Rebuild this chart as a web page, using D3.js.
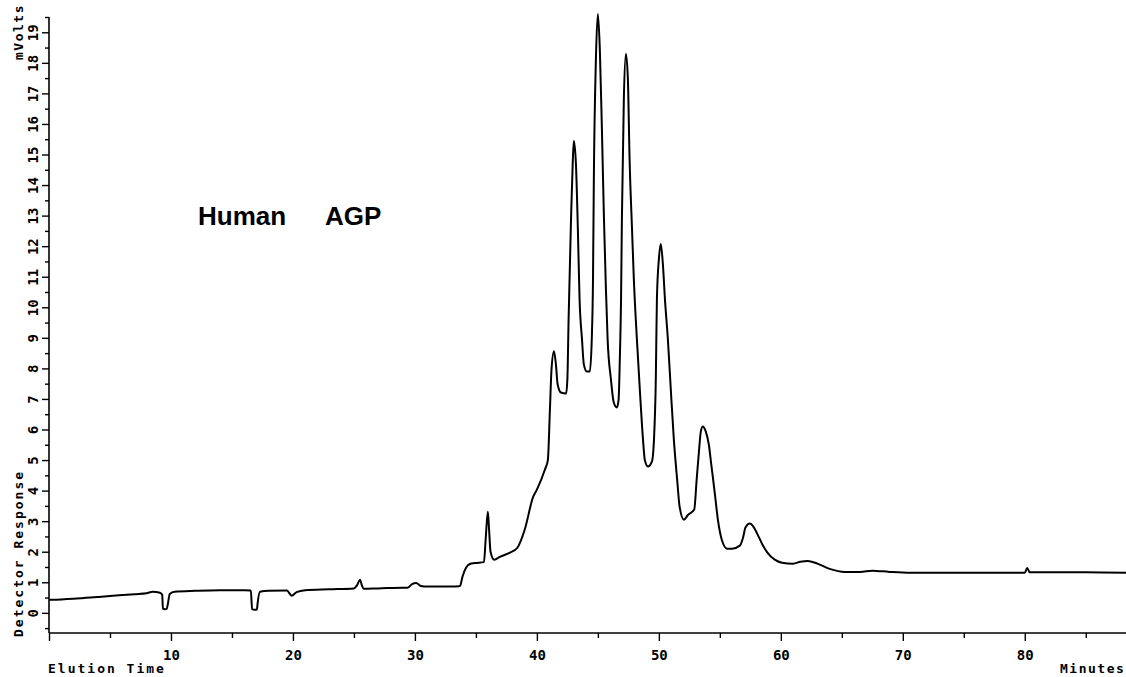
<!DOCTYPE html>
<html>
<head>
<meta charset="utf-8">
<script src="https://cdn.jsdelivr.net/npm/d3@7"></script>
<style>
  body { margin: 0; background: #fff; }
  svg { display: block; }
  .plotter { font-family: "DejaVu Sans Mono", monospace; font-weight: bold; fill: #000; }
</style>
</head>
<body>
<svg id="chart" width="1126" height="677"></svg>
<script>
// elution time (minutes) and detector response (mVolts)
const timeMin = [
  0, 1, 2, 3, 4, 5, 6, 7, 8, 8.5, 9.1, 9.28, 9.34, 9.5, 9.65, 9.75, 9.9, 10.3, 12, 14, 16, 16.55,
  16.65, 16.85, 17.05, 17.1, 17.3, 18, 19.5, 19.9, 20.3, 21, 23, 25, 25.25, 25.5, 25.65, 25.8, 27, 29,
  29.4, 29.8, 30.1, 30.5, 31, 33, 33.6, 33.7, 33.9, 34.2, 34.5, 34.9, 35.66, 35.8, 35.98, 36.07, 36.2,
  36.5, 37, 37.8, 38.4, 39.0, 39.7, 40.0, 40.66, 40.9, 41.07, 41.2, 41.4, 41.56, 41.7, 41.97, 42.4,
  42.5, 42.6, 42.8, 42.95, 43.03, 43.2, 43.36, 43.5, 43.7, 43.85, 44.1, 44.34, 44.5, 44.6, 44.67,
  44.84, 45.0, 45.16, 45.33, 45.5, 45.66, 45.8, 46.07, 46.3, 46.56, 46.7, 46.8, 46.9, 46.97, 47.13,
  47.3, 47.46, 47.6, 47.8, 47.95, 48.2, 48.44, 48.7, 48.85, 49.1, 49.43, 49.6, 49.75, 49.84, 50.0,
  50.16, 50.33, 50.5, 50.74, 50.98, 51.23, 51.5, 51.7, 52.05, 52.4, 52.9, 53.1, 53.3, 53.44, 53.6,
  53.85, 54.1, 54.3, 54.6, 54.84, 55.16, 55.6, 56.0, 56.64, 56.9, 57.1, 57.46, 57.8, 58.1, 58.5,
  58.9, 59.5, 60.1, 61.0, 61.6, 62.2, 63.0, 64.0, 65.25, 66.5, 67.5, 68.9, 70.6, 73, 78, 80.0,
  80.2, 80.4, 82, 85, 88.3
];
const mVolts = [
  0.43, 0.44, 0.46, 0.49, 0.52, 0.55, 0.58, 0.61, 0.64, 0.69, 0.66, 0.59, 0.14, 0.12, 0.13, 0.3, 0.62, 0.69, 0.72, 0.74, 0.74, 0.73,
  0.12, 0.1, 0.11, 0.3, 0.69, 0.72, 0.73, 0.56, 0.68, 0.74, 0.77, 0.8, 0.9, 1.08, 0.9, 0.79, 0.8, 0.82,
  0.82, 0.95, 0.98, 0.88, 0.86, 0.86, 0.87, 0.88, 1.18, 1.48, 1.6, 1.63, 1.66, 2.4, 3.31, 2.8, 2.0,
  1.74, 1.84, 1.97, 2.13, 2.72, 3.8, 4.03, 4.69, 5.0, 6.66, 7.97, 8.56, 8.13, 7.48, 7.21, 7.18,
  7.64, 9.6, 12.9, 14.85, 15.44, 14.7, 12.56, 10.26, 8.95, 8.13, 7.9, 7.9, 8.95, 10.9, 14.2,
  18.13, 19.6, 18.46, 15.84, 12.89, 10.6, 8.95, 7.64, 6.89, 6.72, 6.98, 8.3, 10.26, 12.9, 16.82,
  18.3, 17.48, 14.85, 12.56, 10.92, 8.95, 7.31, 5.67, 5.0, 4.79, 4.95, 5.67, 7.64, 10.26, 11.57,
  12.07, 11.41, 10.26, 8.95, 7.31, 5.67, 4.36, 3.48, 3.05, 3.21, 3.38, 4.36, 5.34, 5.93, 6.1,
  5.93, 5.5, 4.85, 3.87, 3.05, 2.39, 2.1, 2.1, 2.2, 2.46, 2.79, 2.92, 2.79, 2.56, 2.23,
  1.97, 1.74, 1.64, 1.61, 1.67, 1.7, 1.61, 1.44, 1.34, 1.34, 1.38, 1.34, 1.31, 1.31, 1.31, 1.31,
  1.47, 1.33, 1.33, 1.33, 1.31
];

const xTickValues = d3.range(0, 90, 5);      // minor every 5 min, labelled every 10
const xTickLabels = ["", "10", "20", "30", "40", "50", "60", "70", "80"];
const yTickValues = d3.range(-0.5, 19.6, 0.5); // minor every 0.5 mV
const yTickLabels = d3.range(0, 20).map(String);

const svg = d3.select('#chart');
const width = 1126, height = 677;

const x = d3.scaleLinear().domain([0, 88.3]).range([49, 1126]);
const y = d3.scaleLinear().domain([-0.66, 19.5]).range([633, 17]);

// y axis
const yAxis = d3.axisLeft(y)
    .tickValues(yTickValues)
    .tickFormat(d => Number.isInteger(d) && d >= 0 ? yTickLabels[d] : "");

svg.append('g')
    .attr('transform', `translate(${x(0)},0)`)
    .call(yAxis)
    .call(g => g.select('.domain').attr('d', `M0,${y(19.5)}V${y(-0.66)}`).attr('stroke-width', 1.6))
    .call(g => g.selectAll('.tick line')
        .attr('x2', d => Number.isInteger(d) ? -7 : -4)
        .attr('stroke-width', 1.4))
    .call(g => g.selectAll('.tick text')
        .attr('class', 'plotter')
        .attr('font-size', 14)
        .attr('x', 0).attr('y', 0).attr('dy', null)
        .attr('text-anchor', 'middle')
        .attr('transform', 'translate(-11,0) rotate(-90)')
        .attr('dominant-baseline', 'auto'));

// x axis
const xAxis = d3.axisBottom(x)
    .tickValues(xTickValues)
    .tickFormat(d => d % 10 === 0 ? xTickLabels[d / 10] : "");

svg.append('g')
    .attr('transform', `translate(0,${y(-0.66)})`)
    .call(xAxis)
    .call(g => g.select('.domain').attr('d', `M${x(0)},0H${width}`).attr('stroke-width', 1.4))
    .call(g => g.selectAll('.tick line')
        .attr('y2', d => d % 10 === 0 ? 8 : 5)
        .attr('stroke-width', 1.4))
    .call(g => g.selectAll('.tick text')
        .attr('class', 'plotter')
        .attr('font-size', 14)
        .attr('y', 27).attr('dy', null));

// axis titles
svg.append('text')
    .attr('class', 'plotter')
    .attr('font-size', 13)
    .attr('letter-spacing', 2)
    .attr('transform', 'translate(23,637) rotate(-90)')
    .text('Detector Response');

svg.append('text')
    .attr('class', 'plotter')
    .attr('font-size', 13)
    .attr('letter-spacing', 1.5)
    .attr('transform', 'translate(23,60) rotate(-90)')
    .text('mVolts');

svg.append('text')
    .attr('class', 'plotter')
    .attr('font-size', 13)
    .attr('letter-spacing', 2)
    .attr('x', 48).attr('y', 673)
    .text('Elution Time');

svg.append('text')
    .attr('class', 'plotter')
    .attr('font-size', 13)
    .attr('letter-spacing', 1.5)
    .attr('x', 1060).attr('y', 673)
    .text('Minutes');

// sample label
svg.append('text')
    .attr('x', 198).attr('y', 225)
    .attr('font-family', '"Liberation Sans", Arial, sans-serif')
    .attr('font-weight', 'bold')
    .attr('font-size', 26)
    .text('Human');

svg.append('text')
    .attr('x', 325).attr('y', 225)
    .attr('font-family', '"Liberation Sans", Arial, sans-serif')
    .attr('font-weight', 'bold')
    .attr('font-size', 26)
    .text('AGP');

// chromatogram trace
const line = d3.line()
    .x(d => x(d[0]))
    .y(d => y(d[1]))
    .curve(d3.curveMonotoneX);

svg.append('path')
    .datum(d3.zip(timeMin, mVolts))
    .attr('fill', 'none')
    .attr('stroke', '#000')
    .attr('stroke-width', 2)
    .attr('stroke-linejoin', 'round')
    .attr('d', line);
</script>
</body>
</html>
